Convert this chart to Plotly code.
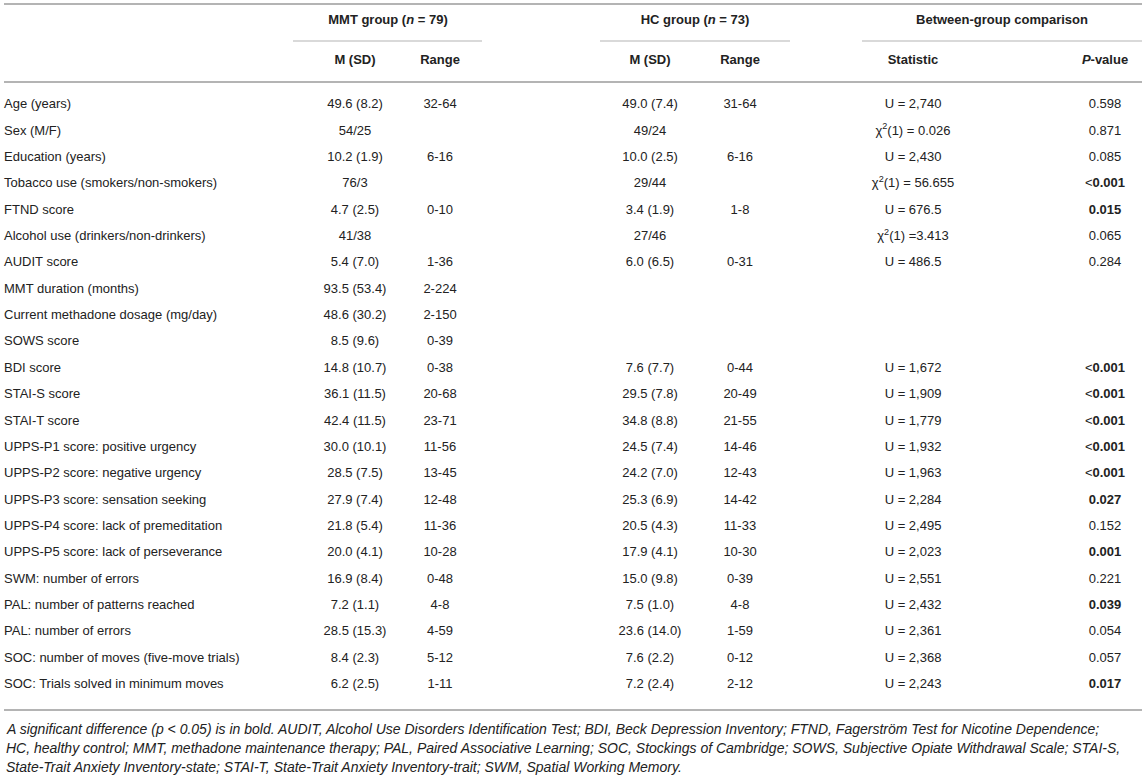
import plotly.graph_objects as go

# table contents
labels = ["Age (years)", "Sex (M/F)", "Education (years)", "Tobacco use (smokers/non-smokers)",
          "FTND score", "Alcohol use (drinkers/non-drinkers)", "AUDIT score", "MMT duration (months)",
          "Current methadone dosage (mg/day)", "SOWS score", "BDI score", "STAI-S score", "STAI-T score",
          "UPPS-P1 score: positive urgency", "UPPS-P2 score: negative urgency",
          "UPPS-P3 score: sensation seeking", "UPPS-P4 score: lack of premeditation",
          "UPPS-P5 score: lack of perseverance", "SWM: number of errors",
          "PAL: number of patterns reached", "PAL: number of errors",
          "SOC: number of moves (five-move trials)", "SOC: Trials solved in minimum moves"]
mmt_msd = ["49.6 (8.2)", "54/25", "10.2 (1.9)", "76/3", "4.7 (2.5)", "41/38", "5.4 (7.0)", "93.5 (53.4)",
           "48.6 (30.2)", "8.5 (9.6)", "14.8 (10.7)", "36.1 (11.5)", "42.4 (11.5)", "30.0 (10.1)",
           "28.5 (7.5)", "27.9 (7.4)", "21.8 (5.4)", "20.0 (4.1)", "16.9 (8.4)", "7.2 (1.1)",
           "28.5 (15.3)", "8.4 (2.3)", "6.2 (2.5)"]
mmt_range = ["32-64", "", "6-16", "", "0-10", "", "1-36", "2-224", "2-150", "0-39", "0-38", "20-68",
             "23-71", "11-56", "13-45", "12-48", "11-36", "10-28", "0-48", "4-8", "4-59", "5-12", "1-11"]
hc_msd = ["49.0 (7.4)", "49/24", "10.0 (2.5)", "29/44", "3.4 (1.9)", "27/46", "6.0 (6.5)", "", "", "",
          "7.6 (7.7)", "29.5 (7.8)", "34.8 (8.8)", "24.5 (7.4)", "24.2 (7.0)", "25.3 (6.9)",
          "20.5 (4.3)", "17.9 (4.1)", "15.0 (9.8)", "7.5 (1.0)", "23.6 (14.0)", "7.6 (2.2)", "7.2 (2.4)"]
hc_range = ["31-64", "", "6-16", "", "1-8", "", "0-31", "", "", "", "0-44", "20-49", "21-55", "14-46",
            "12-43", "14-42", "11-33", "10-30", "0-39", "4-8", "1-59", "0-12", "2-12"]
statistic = ["U = 2,740", "χ<sup>2</sup>(1) = 0.026", "U = 2,430", "χ<sup>2</sup>(1) = 56.655",
             "U = 676.5", "χ<sup>2</sup>(1) =3.413", "U = 486.5", "", "", "", "U = 1,672", "U = 1,909",
             "U = 1,779", "U = 1,932", "U = 1,963", "U = 2,284", "U = 2,495", "U = 2,023", "U = 2,551",
             "U = 2,432", "U = 2,361", "U = 2,368", "U = 2,243"]
p_value = ["0.598", "0.871", "0.085", "<<b>0.001</b>", "<b>0.015</b>", "0.065", "0.284", "", "", "",
           "<<b>0.001</b>", "<<b>0.001</b>", "<<b>0.001</b>", "<<b>0.001</b>", "<<b>0.001</b>",
           "<b>0.027</b>", "0.152", "<b>0.001</b>", "0.221", "<b>0.039</b>", "0.054", "0.057", "<b>0.017</b>"]

groups = ["MMT group (<i>n</i> = 79)", "HC group (<i>n</i> = 73)", "Between-group comparison"]
subheads = ["M (SD)", "Range", "M (SD)", "Range", "Statistic", "<i>P</i>-value"]

footnote = ["A significant difference (p < 0.05) is in bold. AUDIT, Alcohol Use Disorders Identification Test; "
            "BDI, Beck Depression Inventory; FTND, Fagerström Test for Nicotine Dependence;",
            "HC, healthy control; MMT, methadone maintenance therapy; PAL, Paired Associative Learning; "
            "SOC, Stockings of Cambridge; SOWS, Subjective Opiate Withdrawal Scale; STAI-S,",
            "State-Trait Anxiety Inventory-state; STAI-T, State-Trait Anxiety Inventory-trait; "
            "SWM, Spatial Working Memory."]

FONT = "Liberation Sans, Arial, sans-serif"
TXT = "#222222"
RULE = "#b4b4b4"

row_y = [105 + i * 26.36 for i in range(len(labels))]
col_x = [355, 440, 650, 740, 913, 1105]

fig = go.Figure()
fig.add_trace(go.Scatter(x=[4] * len(labels), y=row_y, text=labels, mode="text",
                         textposition="middle right", textfont=dict(family=FONT, size=13, color=TXT),
                         hoverinfo="skip"))
for cx, col in zip(col_x, [mmt_msd, mmt_range, hc_msd, hc_range, statistic, p_value]):
    fig.add_trace(go.Scatter(x=[cx] * len(col), y=row_y, text=col, mode="text",
                             textposition="middle center", textfont=dict(family=FONT, size=13, color=TXT),
                             hoverinfo="skip"))

# header rows
fig.add_trace(go.Scatter(x=[388, 695, 1002], y=[21] * 3, text=["<b>%s</b>" % g for g in groups],
                         mode="text", textposition="middle center",
                         textfont=dict(family=FONT, size=13, color=TXT), hoverinfo="skip"))
fig.add_trace(go.Scatter(x=col_x, y=[61] * 6, text=["<b>%s</b>" % s for s in subheads],
                         mode="text", textposition="middle center",
                         textfont=dict(family=FONT, size=13, color=TXT), hoverinfo="skip"))

# rules
for y0 in [4, 82, 710]:
    fig.add_shape(type="line", x0=4, x1=1142, y0=y0, y1=y0, line=dict(color=RULE, width=2))
for xa, xb in [(293, 482), (600, 790), (862, 1142)]:
    fig.add_shape(type="line", x0=xa, x1=xb, y0=41, y1=41, line=dict(color=RULE, width=1.2))

for i, line in enumerate(footnote):
    fig.add_annotation(x=4, y=729 + i * 19, xanchor="left", yanchor="middle", showarrow=False,
                       text="<i>%s</i>" % line, font=dict(family=FONT, size=14, color=TXT))

fig.update_layout(width=1146, height=775, margin=dict(l=0, r=0, t=0, b=0),
                  paper_bgcolor="white", plot_bgcolor="white", showlegend=False,
                  xaxis=dict(range=[0, 1146], visible=False, fixedrange=True),
                  yaxis=dict(range=[775, 0], visible=False, fixedrange=True))
# drop the default page margin so the figure sits at the window's corner
fig.write_html("out.html", config={"displayModeBar": False},
               post_script="document.body.style.margin='0px';")
